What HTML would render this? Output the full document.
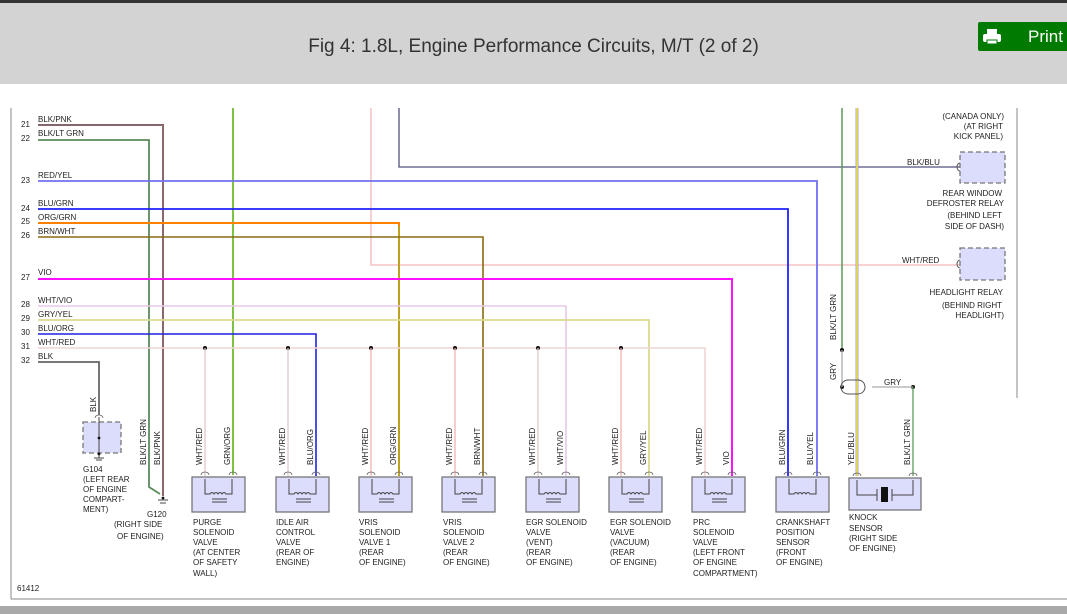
<!DOCTYPE html>
<html><head><meta charset="utf-8"><style>
html,body{margin:0;padding:0;width:1067px;height:614px;overflow:hidden;background:#fff;font-family:"Liberation Sans",sans-serif}
#hdr{position:absolute;left:0;top:0;width:1067px;height:84px;background:#d3d3d3;border-top:3px solid #333;box-sizing:border-box}
#title{position:absolute;left:0;width:1067px;top:33px;text-align:center;font-size:19px;color:#333}
#print{position:absolute;left:978px;top:19px;width:95px;height:29px;background:#007a00;border-radius:2px;color:#fff;font-size:17px}
#bot{position:absolute;left:0;top:606px;width:1067px;height:8px;background:#a9a9a9}
svg{position:absolute;left:0;top:0}
text{font-family:"Liberation Sans",sans-serif;font-size:8px;fill:#222}
</style></head><body>
<div id="hdr"><div id="title">Fig 4: 1.8L, Engine Performance Circuits, M/T (2 of 2)</div>
<div id="print"><svg width="30" height="29" style="position:relative"><rect x="9" y="7" width="10" height="6" fill="#fff"/><rect x="5" y="12" width="18" height="8" rx="2" fill="#fff"/><rect x="9" y="18" width="10" height="4" fill="#fff" stroke="#007a00"/></svg><span style="position:absolute;left:50px;top:5px">Print</span></div></div>
<div id="bot"></div>
<svg width="1067" height="614" viewBox="0 0 1067 614" fill="none">
<line x1="11" y1="108" x2="11" y2="599" stroke="#888"/>
<line x1="11" y1="599" x2="1067" y2="599" stroke="#888"/>
<line x1="1017" y1="108" x2="1017" y2="398" stroke="#888"/>
<g>
<text x="21" y="127">21</text><text x="38" y="122">BLK/PNK</text>
<text x="21" y="141">22</text><text x="38" y="136">BLK/LT GRN</text>
<text x="21" y="183">23</text><text x="38" y="178">RED/YEL</text>
<text x="21" y="211">24</text><text x="38" y="206">BLU/GRN</text>
<text x="21" y="224">25</text><text x="38" y="220">ORG/GRN</text>
<text x="21" y="238">26</text><text x="38" y="234">BRN/WHT</text>
<text x="21" y="280">27</text><text x="38" y="275">VIO</text>
<text x="21" y="307">28</text><text x="38" y="303">WHT/VIO</text>
<text x="21" y="321">29</text><text x="38" y="317">GRY/YEL</text>
<text x="21" y="335">30</text><text x="38" y="331">BLU/ORG</text>
<text x="21" y="349">31</text><text x="38" y="345">WHT/RED</text>
<text x="21" y="363">32</text><text x="38" y="359">BLK</text>
</g>
<polyline points="371,108 371,265 960,265" stroke="#f2b8b8" stroke-width="1.3"/>
<polyline points="399,108 399,167 960,167" stroke="#505080" stroke-width="1.3"/>
<line x1="233" y1="108" x2="233" y2="475" stroke="#7dc242" stroke-width="2"/>
<line x1="842" y1="108" x2="842" y2="350" stroke="#5a9a5a" stroke-width="1.5"/>
<line x1="857" y1="108" x2="857" y2="476" stroke="#a0a0ff" stroke-width="3"/>
<line x1="857" y1="108" x2="857" y2="476" stroke="#ffee00" stroke-width="1.3"/>
<polyline points="38,125 163,125 163,496" stroke="#444" stroke-width="2"/>
<polyline points="38,125 163,125 163,496" stroke="#f4a0a8" stroke-width="0.8"/>
<polyline points="38,140 149,140 149,487 160,494" stroke="#5b8a5b" stroke-width="1.8"/>
<polyline points="38,181 817,181 817,476" stroke="#7070f0" stroke-width="1.8"/>
<polyline points="38,209 788,209 788,476" stroke="#2020ff" stroke-width="1.8"/>
<polyline points="38,223 399,223 399,476" stroke="#ff8000" stroke-width="2"/>
<line x1="399" y1="226" x2="399" y2="476" stroke="#7dc242" stroke-width="1"/>
<polyline points="38,237 483,237 483,476" stroke="#8a6a10" stroke-width="1.6"/>
<polyline points="38,279 732,279 732,476" stroke="#ff10ff" stroke-width="2"/>
<polyline points="38,306 566,306 566,476" stroke="#e8c8e8" stroke-width="1.6"/>
<polyline points="38,320 649,320 649,476" stroke="#dada90" stroke-width="1.8"/>
<polyline points="38,334 316,334 316,476" stroke="#2020e0" stroke-width="1.6"/>
<polyline points="38,348 705,348 705,476" stroke="#f2d4d4" stroke-width="1.6"/>
<polyline points="38,362 99,362 99,415" stroke="#666" stroke-width="1.8"/>
<g fill="#111"><circle cx="205" cy="348" r="2"/><circle cx="288" cy="348" r="2"/><circle cx="371" cy="348" r="2"/><circle cx="455" cy="348" r="2"/><circle cx="538" cy="348" r="2"/><circle cx="621" cy="348" r="2"/><circle cx="842" cy="350" r="2"/><circle cx="913" cy="387" r="2"/><circle cx="842" cy="387" r="2"/></g>
<g stroke="#e0c8c8" stroke-width="1.3"><line x1="205" y1="348" x2="205" y2="476"/><line x1="288" y1="348" x2="288" y2="476"/><line x1="538" y1="348" x2="538" y2="476"/></g>
<g stroke="#f0b0b0" stroke-width="1.3"><line x1="371" y1="348" x2="371" y2="476"/><line x1="455" y1="348" x2="455" y2="476"/><line x1="621" y1="348" x2="621" y2="476"/></g>
<line x1="842" y1="350" x2="842" y2="387" stroke="#aaa" stroke-width="1.3"/>
<path d="M848,380 h10 a7,7 0 0 1 0,14 h-10 a7,7 0 0 1 0,-14z" stroke="#555"/>
<line x1="872" y1="387" x2="913" y2="387" stroke="#aaa" stroke-width="1.3"/>
<line x1="913" y1="387" x2="913" y2="476" stroke="#5a9a5a" stroke-width="1.3"/>
<text x="884" y="385">GRY</text>
<text transform="translate(836,380) rotate(-90)">GRY</text>
<text transform="translate(836,340) rotate(-90)">BLK/LT GRN</text>
<rect x="960" y="152" width="45" height="31" fill="#dcdcfc" stroke="#777" stroke-dasharray="5,3" stroke-width="1.3"/>
<rect x="960" y="248" width="45" height="32" fill="#dcdcfc" stroke="#777" stroke-dasharray="5,3" stroke-width="1.3"/>
<path d="M960,163 a3,4 0 0 0 0,8 M960,260 a3,4 0 0 0 0,8" stroke="#555"/>
<text x="907" y="165">BLK/BLU</text><text x="902" y="263">WHT/RED</text>
<g text-anchor="end">
<text x="1004" y="119">(CANADA ONLY)</text><text x="1003" y="129">(AT RIGHT</text><text x="1003" y="139">KICK PANEL)</text>
<text x="1002" y="196">REAR WINDOW</text><text x="1004" y="206">DEFROSTER RELAY</text><text x="1002" y="218">(BEHIND LEFT</text><text x="1004" y="229">SIDE OF DASH)</text>
<text x="1003" y="295">HEADLIGHT RELAY</text><text x="1002" y="308">(BEHIND RIGHT</text><text x="1004" y="318">HEADLIGHT)</text>
</g>
<rect x="83" y="422" width="38" height="31" fill="#dcdcfc" stroke="#777" stroke-dasharray="5,3" stroke-width="1.3"/>
<line x1="99" y1="417" x2="99" y2="458" stroke="#444"/><line x1="94" y1="458" x2="104" y2="458" stroke="#444"/><line x1="96" y1="460" x2="102" y2="460" stroke="#444"/>
<circle cx="99" cy="438" r="1.4" fill="#111"/><circle cx="99" cy="454" r="1.4" fill="#111"/>
<text transform="translate(96,412) rotate(-90)">BLK</text>
<text x="83" y="472">G104</text><text x="83" y="482">(LEFT REAR</text><text x="83" y="492">OF ENGINE</text><text x="83" y="502">COMPART-</text><text x="83" y="512">MENT)</text>
<line x1="158" y1="500" x2="168" y2="500" stroke="#444"/><line x1="160" y1="503" x2="166" y2="503" stroke="#444"/><circle cx="163" cy="498" r="1.4" fill="#111"/>
<text x="147" y="517">G120</text><text x="114" y="527">(RIGHT SIDE</text><text x="117" y="539">OF ENGINE)</text>
<text transform="translate(146,465) rotate(-90)">BLK/LT GRN</text>
<text transform="translate(160,465) rotate(-90)">BLK/PNK</text>
<text x="17" y="591">61412</text>
<g>
<rect x="192" y="477" width="53" height="35" fill="#dcdcfc" stroke="#777" stroke-width="1.3"/>
<rect x="276" y="477" width="53" height="35" fill="#dcdcfc" stroke="#777" stroke-width="1.3"/>
<rect x="359" y="477" width="53" height="35" fill="#dcdcfc" stroke="#777" stroke-width="1.3"/>
<rect x="442" y="477" width="53" height="35" fill="#dcdcfc" stroke="#777" stroke-width="1.3"/>
<rect x="526" y="477" width="53" height="35" fill="#dcdcfc" stroke="#777" stroke-width="1.3"/>
<rect x="609" y="477" width="53" height="35" fill="#dcdcfc" stroke="#777" stroke-width="1.3"/>
<rect x="692" y="477" width="53" height="35" fill="#dcdcfc" stroke="#777" stroke-width="1.3"/>
<rect x="776" y="477" width="53" height="35" fill="#dcdcfc" stroke="#777" stroke-width="1.3"/>
<rect x="849" y="478" width="72" height="32" fill="#dcdcfc" stroke="#777" stroke-width="1.3"/>
</g>
<g stroke="#444" stroke-width="1">
<path d="M205,479 v15 h5 q2,-3 4,0 q2,-3 4,0 q2,-3 4,0 q2,-3 4,0 h6 v-15"/><path d="M212,499 h15 M212,502 h15"/>
<path d="M289,479 v15 h5 q2,-3 4,0 q2,-3 4,0 q2,-3 4,0 q2,-3 4,0 h6 v-15"/><path d="M296,499 h15 M296,502 h15"/>
<path d="M372,479 v15 h5 q2,-3 4,0 q2,-3 4,0 q2,-3 4,0 q2,-3 4,0 h6 v-15"/><path d="M379,499 h15 M379,502 h15"/>
<path d="M455,479 v15 h5 q2,-3 4,0 q2,-3 4,0 q2,-3 4,0 q2,-3 4,0 h6 v-15"/><path d="M462,499 h15 M462,502 h15"/>
<path d="M539,479 v15 h5 q2,-3 4,0 q2,-3 4,0 q2,-3 4,0 q2,-3 4,0 h6 v-15"/><path d="M546,499 h15 M546,502 h15"/>
<path d="M622,479 v15 h5 q2,-3 4,0 q2,-3 4,0 q2,-3 4,0 q2,-3 4,0 h6 v-15"/><path d="M629,499 h15 M629,502 h15"/>
<path d="M705,479 v15 h5 q2,-3 4,0 q2,-3 4,0 q2,-3 4,0 q2,-3 4,0 h6 v-15"/><path d="M712,499 h15 M712,502 h15"/>
<path d="M789,479 v15 h5 q2,-3 4,0 q2,-3 4,0 q2,-3 4,0 q2,-3 4,0 h6 v-15"/>
<path d="M857,480 v15 h20 M877,489 v12 M892,489 v12 M892,495 h21 v-15"/>
</g>
<g stroke="#666" stroke-width="0.8">
<path d="M201,475 a4,3 0 0 1 8,0 M229,475 a4,3 0 0 1 8,0 M284,475 a4,3 0 0 1 8,0 M312,475 a4,3 0 0 1 8,0 M367,475 a4,3 0 0 1 8,0 M395,475 a4,3 0 0 1 8,0 M451,475 a4,3 0 0 1 8,0 M479,475 a4,3 0 0 1 8,0 M534,475 a4,3 0 0 1 8,0 M562,475 a4,3 0 0 1 8,0 M617,475 a4,3 0 0 1 8,0 M645,475 a4,3 0 0 1 8,0 M701,475 a4,3 0 0 1 8,0 M728,475 a4,3 0 0 1 8,0 M784,475 a4,3 0 0 1 8,0 M813,475 a4,3 0 0 1 8,0 M853,476 a4,3 0 0 1 8,0 M909,476 a4,3 0 0 1 8,0 M95,418 a4,3 0 0 1 8,0"/>
</g>
<rect x="881" y="487" width="7" height="15" fill="#111"/>
<g>
<text transform="translate(202,465) rotate(-90)">WHT/RED</text><text transform="translate(230,465) rotate(-90)">GRN/ORG</text>
<text transform="translate(285,465) rotate(-90)">WHT/RED</text><text transform="translate(313,465) rotate(-90)">BLU/ORG</text>
<text transform="translate(368,465) rotate(-90)">WHT/RED</text><text transform="translate(396,465) rotate(-90)">ORG/GRN</text>
<text transform="translate(452,465) rotate(-90)">WHT/RED</text><text transform="translate(480,465) rotate(-90)">BRN/WHT</text>
<text transform="translate(535,465) rotate(-90)">WHT/RED</text><text transform="translate(563,465) rotate(-90)">WHT/VIO</text>
<text transform="translate(618,465) rotate(-90)">WHT/RED</text><text transform="translate(646,465) rotate(-90)">GRY/YEL</text>
<text transform="translate(702,465) rotate(-90)">WHT/RED</text><text transform="translate(729,465) rotate(-90)">VIO</text>
<text transform="translate(785,465) rotate(-90)">BLU/GRN</text><text transform="translate(813,465) rotate(-90)">BLU/YEL</text>
<text transform="translate(854,465) rotate(-90)">YEL/BLU</text><text transform="translate(910,465) rotate(-90)">BLK/LT GRN</text>
</g>
<g>
<text x="193" y="525">PURGE</text><text x="193" y="535">SOLENOID</text><text x="193" y="545">VALVE</text><text x="193" y="555">(AT CENTER</text><text x="193" y="565">OF SAFETY</text><text x="193" y="576">WALL)</text>
<text x="276" y="525">IDLE AIR</text><text x="276" y="535">CONTROL</text><text x="276" y="545">VALVE</text><text x="276" y="555">(REAR OF</text><text x="276" y="565">ENGINE)</text>
<text x="359" y="525">VRIS</text><text x="359" y="535">SOLENOID</text><text x="359" y="545">VALVE 1</text><text x="359" y="555">(REAR</text><text x="359" y="565">OF ENGINE)</text>
<text x="443" y="525">VRIS</text><text x="443" y="535">SOLENOID</text><text x="443" y="545">VALVE 2</text><text x="443" y="555">(REAR</text><text x="443" y="565">OF ENGINE)</text>
<text x="526" y="525">EGR SOLENOID</text><text x="526" y="535">VALVE</text><text x="526" y="545">(VENT)</text><text x="526" y="555">(REAR</text><text x="526" y="565">OF ENGINE)</text>
<text x="610" y="525">EGR SOLENOID</text><text x="610" y="535">VALVE</text><text x="610" y="545">(VACUUM)</text><text x="610" y="555">(REAR</text><text x="610" y="565">OF ENGINE)</text>
<text x="693" y="525">PRC</text><text x="693" y="535">SOLENOID</text><text x="693" y="545">VALVE</text><text x="693" y="555">(LEFT FRONT</text><text x="693" y="565">OF ENGINE</text><text x="693" y="576">COMPARTMENT)</text>
<text x="776" y="525">CRANKSHAFT</text><text x="776" y="535">POSITION</text><text x="776" y="545">SENSOR</text><text x="776" y="555">(FRONT</text><text x="776" y="565">OF ENGINE)</text>
<text x="849" y="520">KNOCK</text><text x="849" y="531">SENSOR</text><text x="849" y="541">(RIGHT SIDE</text><text x="849" y="551">OF ENGINE)</text>
</g>
</svg>
</body></html>
